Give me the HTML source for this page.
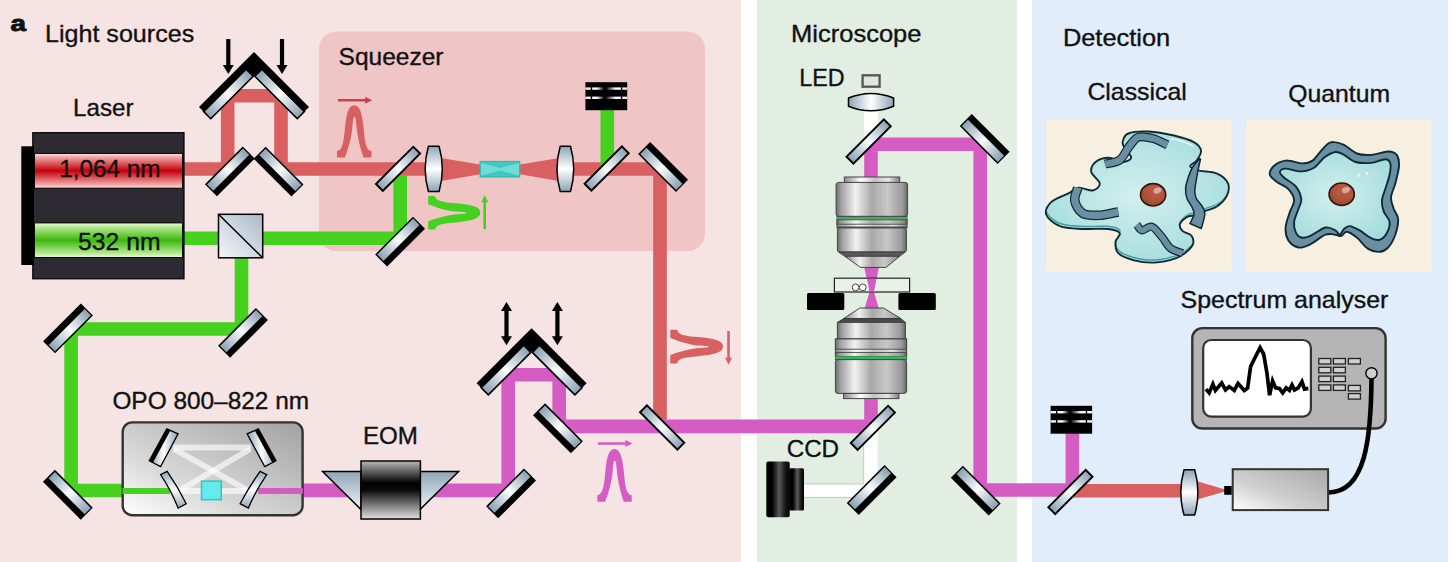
<!DOCTYPE html>
<html><head><meta charset="utf-8"><title>Experimental setup</title>
<style>
html,body{margin:0;padding:0;background:#fff;}
body{width:1453px;height:562px;overflow:hidden;font-family:"Liberation Sans",sans-serif;}
svg{display:block;}
</style></head><body>
<svg width="1453" height="562" viewBox="0 0 1453 562" font-family="'Liberation Sans', sans-serif" fill="#111">

<defs>
<linearGradient id="glass" x1="0" y1="0" x2="1" y2="0">
 <stop offset="0" stop-color="#8aa1b2"/><stop offset="0.5" stop-color="#fbfcfd"/><stop offset="1" stop-color="#8aa1b2"/>
</linearGradient>
<linearGradient id="lensV" x1="0" y1="0" x2="0" y2="1">
 <stop offset="0" stop-color="#8ea5b6"/><stop offset="0.5" stop-color="#ffffff"/><stop offset="1" stop-color="#8ea5b6"/>
</linearGradient>
<linearGradient id="lensH" x1="0" y1="0" x2="1" y2="0">
 <stop offset="0" stop-color="#8ea5b6"/><stop offset="0.5" stop-color="#ffffff"/><stop offset="1" stop-color="#8ea5b6"/>
</linearGradient>
<linearGradient id="redtube" x1="0" y1="0" x2="0" y2="1">
 <stop offset="0" stop-color="#fbe3e3"/><stop offset="0.12" stop-color="#f0a0a0"/><stop offset="0.5" stop-color="#c4000c"/><stop offset="0.88" stop-color="#f0a0a0"/><stop offset="1" stop-color="#fbe3e3"/>
</linearGradient>
<linearGradient id="greentube" x1="0" y1="0" x2="0" y2="1">
 <stop offset="0" stop-color="#eefbe0"/><stop offset="0.12" stop-color="#b4ea90"/><stop offset="0.5" stop-color="#3cb80c"/><stop offset="0.88" stop-color="#b4ea90"/><stop offset="1" stop-color="#eefbe0"/>
</linearGradient>
<linearGradient id="cube" x1="0" y1="1" x2="1" y2="0">
 <stop offset="0" stop-color="#f4f6f8"/><stop offset="1" stop-color="#a9bac8"/>
</linearGradient>
<linearGradient id="opobox" x1="0" y1="1" x2="1" y2="0">
 <stop offset="0" stop-color="#ffffff"/><stop offset="0.35" stop-color="#d8d8d8"/><stop offset="1" stop-color="#a2a2a2"/>
</linearGradient>
<linearGradient id="detbox" x1="0" y1="1" x2="1" y2="0">
 <stop offset="0" stop-color="#ffffff"/><stop offset="0.4" stop-color="#d0d0d0"/><stop offset="1" stop-color="#a8a8a8"/>
</linearGradient>
<linearGradient id="eom" x1="0" y1="0" x2="0" y2="1">
 <stop offset="0" stop-color="#b8b8b8"/><stop offset="0.38" stop-color="#000000"/><stop offset="0.5" stop-color="#0a0a0a"/><stop offset="1" stop-color="#e2e2e2"/>
</linearGradient>
<linearGradient id="prism" x1="0" y1="0" x2="0" y2="1">
 <stop offset="0" stop-color="#8fa6b8"/><stop offset="1" stop-color="#eef2f5"/>
</linearGradient>
<linearGradient id="metal" x1="0" y1="0" x2="1" y2="0">
 <stop offset="0" stop-color="#6e6e6e"/><stop offset="0.07" stop-color="#a0a0a0"/><stop offset="0.27" stop-color="#f2f2f2"/><stop offset="0.5" stop-color="#a8a8a8"/><stop offset="0.72" stop-color="#c8c8c8"/><stop offset="0.93" stop-color="#9a9a9a"/><stop offset="1" stop-color="#666666"/>
</linearGradient>
<linearGradient id="metal2" x1="0" y1="0" x2="1" y2="0">
 <stop offset="0" stop-color="#8a8a8a"/><stop offset="0.3" stop-color="#ffffff"/><stop offset="0.55" stop-color="#c4c4c4"/><stop offset="0.8" stop-color="#e6e6e6"/><stop offset="1" stop-color="#808080"/>
</linearGradient>
<linearGradient id="dumpstripe" x1="0" y1="0" x2="1" y2="0">
 <stop offset="0" stop-color="#ccc"/><stop offset="0.06" stop-color="#fff"/><stop offset="0.18" stop-color="#f4f4f4"/><stop offset="0.42" stop-color="#000"/><stop offset="0.47" stop-color="#000"/><stop offset="0.8" stop-color="#f4f4f4"/><stop offset="0.95" stop-color="#fff"/><stop offset="1" stop-color="#ccc"/>
</linearGradient>
<linearGradient id="ccd" x1="0" y1="0" x2="1" y2="0">
 <stop offset="0" stop-color="#000"/><stop offset="0.25" stop-color="#000"/><stop offset="0.55" stop-color="#5a5a5a"/><stop offset="0.8" stop-color="#1a1a1a"/><stop offset="1" stop-color="#000"/>
</linearGradient>
<radialGradient id="cyto" cx="0.5" cy="0.5" r="0.6">
 <stop offset="0" stop-color="#d4efee"/><stop offset="1" stop-color="#a3dcdc"/>
</radialGradient>
<radialGradient id="nuc" cx="0.6" cy="0.35" r="0.7">
 <stop offset="0" stop-color="#bb5e47"/><stop offset="0.55" stop-color="#b0543e"/><stop offset="1" stop-color="#98432f"/>
</radialGradient>
</defs>

<rect x="0.0" y="0.0" width="1453.0" height="562.0" fill="#ffffff" />
<rect x="0.0" y="0.0" width="741.0" height="562.0" fill="#f5e4e3" />
<rect x="757.0" y="0.0" width="260.0" height="562.0" fill="#e3eee2" />
<rect x="1032.0" y="0.0" width="416.0" height="562.0" fill="#e1edfa" />
<rect x="319" y="31.5" width="386" height="219.5" rx="17" ry="17" fill="#f0c5c5"/>
<polyline points="184.0,169.0 227.7,169.0 227.7,95.7 281.0,95.7 281.0,169.0 430.0,169.0" fill="none" stroke="#d96060" stroke-width="13.6" stroke-linejoin="bevel" />
<polyline points="570.0,169.0 660.0,169.0 660.0,426.0" fill="none" stroke="#d96060" stroke-width="13.6" stroke-linejoin="bevel" />
<polygon points="438,157.4 480,164.4 520,164.4 562,157.4 562,181.6 520,174.2 480,174.2 438,181.6" fill="#d96060"/>
<polyline points="1072.0,490.7 1190.0,490.7" fill="none" stroke="#d96060" stroke-width="13.6" stroke-linejoin="bevel" />
<polygon points="1192,479.8 1225,489.5 1225,491.5 1192,501" fill="#d96060"/>
<polyline points="184.0,238.2 400.2,238.2 400.2,175.7" fill="none" stroke="#46d020" stroke-width="13.6" stroke-linejoin="bevel" />
<polyline points="241.5,250.0 241.5,329.0 71.1,329.0 71.1,490.5 123.0,490.5" fill="none" stroke="#46d020" stroke-width="13.6" stroke-linejoin="bevel" />
<polyline points="607.3,108.0 607.3,169.0" fill="none" stroke="#46d020" stroke-width="13.6" stroke-linejoin="bevel" />
<polyline points="122.0,491.0 166.0,491.0" fill="none" stroke="#46d020" stroke-width="6.2" stroke-linejoin="bevel" />
<polyline points="258.0,491.0 304.0,491.0" fill="none" stroke="#d45cc2" stroke-width="6.2" stroke-linejoin="bevel" />
<polyline points="303.0,490.4 508.2,490.4 508.2,374.7 559.2,374.7 559.2,426.4 871.0,426.4 871.0,396.0" fill="none" stroke="#d45cc2" stroke-width="13.6" stroke-linejoin="bevel" />
<polyline points="871.0,180.0 871.0,144.2 980.2,144.2 980.2,490.0 1072.4,490.0 1072.4,432.0" fill="none" stroke="#d45cc2" stroke-width="13.6" stroke-linejoin="bevel" />
<polygon points="864,266 879.2,266 874,292 879,309 864.4,309 869.5,292" fill="#d45cc2"/>
<path d="M864.1,100 V140 H878 V100 Z" fill="#fff"/>
<path d="M863.7,430 V484 H804 V497.4 H877.5 V430 Z" fill="#fff"/>
<path d="M863.7,440 V484 H804 M804,497.4 H860" fill="none" stroke="#c4c9c4" stroke-width="1"/>
<rect x="32.8" y="132.7" width="151.2" height="146.1" fill="#2e2a31" stroke="#000" stroke-width="1.2"/>
<rect x="21.3" y="146.3" width="12.7" height="118.7" fill="#000" />
<rect x="34.4" y="153.4" width="148.2" height="34.8" fill="url(#redtube)" stroke="#000" stroke-width="1"/>
<rect x="34.4" y="222.9" width="148.2" height="34.6" fill="url(#greentube)" stroke="#000" stroke-width="1"/>
<polygon points="254.0,52.0 199.0,107.0 210.7,118.7 254.0,75.4 297.3,118.7 309.0,107.0" fill="#000"/>
<linearGradient id="rg254l" gradientUnits="userSpaceOnUse" x1="210.7" y1="118.7" x2="253.2" y2="76.2"><stop offset="0" stop-color="#8aa1b2"/><stop offset="0.5" stop-color="#fbfcfd"/><stop offset="1" stop-color="#8aa1b2"/></linearGradient>
<polygon points="210.7,118.7 253.2,76.2 246.1,69.1 203.6,111.6" fill="url(#rg254l)" stroke="#000" stroke-width="1.6"/>
<linearGradient id="rg254r" gradientUnits="userSpaceOnUse" x1="297.3" y1="118.7" x2="254.8" y2="76.2"><stop offset="0" stop-color="#8aa1b2"/><stop offset="0.5" stop-color="#fbfcfd"/><stop offset="1" stop-color="#8aa1b2"/></linearGradient>
<polygon points="297.3,118.7 254.8,76.2 261.9,69.1 304.4,111.6" fill="url(#rg254r)" stroke="#000" stroke-width="1.6"/>
<polygon points="531.6,328.2 476.6,383.2 488.3,394.9 531.6,351.6 574.9,394.9 586.6,383.2" fill="#000"/>
<linearGradient id="rg531l" gradientUnits="userSpaceOnUse" x1="488.3" y1="394.9" x2="530.8" y2="352.4"><stop offset="0" stop-color="#8aa1b2"/><stop offset="0.5" stop-color="#fbfcfd"/><stop offset="1" stop-color="#8aa1b2"/></linearGradient>
<polygon points="488.3,394.9 530.8,352.4 523.7,345.3 481.2,387.8" fill="url(#rg531l)" stroke="#000" stroke-width="1.6"/>
<linearGradient id="rg531r" gradientUnits="userSpaceOnUse" x1="574.9" y1="394.9" x2="532.4" y2="352.4"><stop offset="0" stop-color="#8aa1b2"/><stop offset="0.5" stop-color="#fbfcfd"/><stop offset="1" stop-color="#8aa1b2"/></linearGradient>
<polygon points="574.9,394.9 532.4,352.4 539.5,345.3 582.0,387.8" fill="url(#rg531r)" stroke="#000" stroke-width="1.6"/>
<path d="M226.20000000000002,39 h4.2 V65 h3.4 L228.3,74 l-5.5,-9 h3.4 Z" fill="#000"/>
<path d="M279.9,39 h4.2 V65 h3.4 L282,74 l-5.5,-9 h3.4 Z" fill="#000"/>
<path d="M506.5,302 l5.5,9 h-3.4 V336.2 h3.4 L506.5,345.2 l-5.5,-9 h3.4 V311 h-3.4 Z" fill="#000"/>
<path d="M557.4,302 l5.5,9 h-3.4 V336.2 h3.4 L557.4,345.2 l-5.5,-9 h3.4 V311 h-3.4 Z" fill="#000"/>
<g transform="translate(229.9,171.4) rotate(-45)">
<rect x="-26.8" y="-8.5" width="53.5" height="17.0" fill="#000"/>
<rect x="-25.4" y="-7.0" width="50.9" height="8.9" fill="url(#glass)"/>
</g>
<g transform="translate(278.6,171.6) rotate(45)">
<rect x="-26.8" y="-8.5" width="53.5" height="17.0" fill="#000"/>
<rect x="-25.4" y="-7.0" width="50.9" height="8.9" fill="url(#glass)"/>
</g>
<g transform="translate(511.1,493.4) rotate(-45)">
<rect x="-26.8" y="-8.5" width="53.5" height="17.0" fill="#000"/>
<rect x="-25.4" y="-7.0" width="50.9" height="8.9" fill="url(#glass)"/>
</g>
<g transform="translate(558.0,428.3) rotate(45)">
<rect x="-26.8" y="-8.5" width="53.5" height="17.0" fill="#000"/>
<rect x="-25.4" y="-7.0" width="50.9" height="8.9" fill="url(#glass)"/>
</g>
<g transform="translate(243.0,332.9) rotate(-45)">
<rect x="-26.8" y="-8.5" width="53.5" height="17.0" fill="#000"/>
<rect x="-25.4" y="-7.0" width="50.9" height="8.9" fill="url(#glass)"/>
</g>
<g transform="translate(68.0,328.4) rotate(-45)">
<rect x="-26.8" y="-8.5" width="53.5" height="17.0" fill="#000"/>
<rect x="-25.4" y="-1.9" width="50.9" height="8.9" fill="url(#glass)"/>
</g>
<g transform="translate(67.9,494.8) rotate(45)">
<rect x="-26.8" y="-8.5" width="53.5" height="17.0" fill="#000"/>
<rect x="-25.4" y="-7.0" width="50.9" height="8.9" fill="url(#glass)"/>
</g>
<g transform="translate(400.1,241.6) rotate(-45)">
<rect x="-26.8" y="-8.5" width="53.5" height="17.0" fill="#000"/>
<rect x="-25.4" y="-7.0" width="50.9" height="8.9" fill="url(#glass)"/>
</g>
<g transform="translate(663.1,167.0) rotate(45)">
<rect x="-26.8" y="-8.5" width="53.5" height="17.0" fill="#000"/>
<rect x="-25.4" y="-1.9" width="50.9" height="8.9" fill="url(#glass)"/>
</g>
<g transform="translate(984.7,139.0) rotate(45)">
<rect x="-26.8" y="-8.5" width="53.5" height="17.0" fill="#000"/>
<rect x="-25.4" y="-1.9" width="50.9" height="8.9" fill="url(#glass)"/>
</g>
<g transform="translate(871.7,490.0) rotate(-45)">
<rect x="-26.8" y="-8.5" width="53.5" height="17.0" fill="#000"/>
<rect x="-25.4" y="-7.0" width="50.9" height="8.9" fill="url(#glass)"/>
</g>
<g transform="translate(975.8,490.7) rotate(45)">
<rect x="-26.8" y="-8.5" width="53.5" height="17.0" fill="#000"/>
<rect x="-25.4" y="-7.0" width="50.9" height="8.9" fill="url(#glass)"/>
</g>
<g transform="translate(398.0,168.8) rotate(-45)">
<rect x="-26.4" y="-4.8" width="52.8" height="9.7" fill="url(#glass)" stroke="#000" stroke-width="1.9"/>
</g>
<g transform="translate(606.6,168.5) rotate(-45)">
<rect x="-26.4" y="-4.8" width="52.8" height="9.7" fill="url(#glass)" stroke="#000" stroke-width="1.9"/>
</g>
<g transform="translate(868.6,141.5) rotate(-45)">
<rect x="-26.4" y="-4.8" width="52.8" height="9.7" fill="url(#glass)" stroke="#000" stroke-width="1.9"/>
</g>
<g transform="translate(872.8,427.8) rotate(-45)">
<rect x="-26.4" y="-4.8" width="52.8" height="9.7" fill="url(#glass)" stroke="#000" stroke-width="1.9"/>
</g>
<g transform="translate(1070.4,491.9) rotate(-45)">
<rect x="-26.4" y="-4.8" width="52.8" height="9.7" fill="url(#glass)" stroke="#000" stroke-width="1.9"/>
</g>
<g transform="translate(662.2,427.4) rotate(45)">
<rect x="-26.4" y="-4.8" width="52.8" height="9.7" fill="url(#glass)" stroke="#000" stroke-width="1.9"/>
</g>
<rect x="218.5" y="214.3" width="44.2" height="43.5" fill="url(#cube)" stroke="#000" stroke-width="1.5"/>
<line x1="218.5" y1="214.3" x2="262.7" y2="257.8" stroke="#000" stroke-width="1.5"/>
<path d="M428.4,146.3 L439.1,146.3 Q445.5,168.9 439.1,191.5 L428.4,191.5 Q422.0,168.9 428.4,146.3 Z" fill="url(#lensV)" stroke="#000" stroke-width="1.5" stroke-linejoin="round"/>
<path d="M560.2,146.3 L570.5,146.3 Q576.9,168.9 570.5,191.5 L560.2,191.5 Q553.8,168.9 560.2,146.3 Z" fill="url(#lensV)" stroke="#000" stroke-width="1.5" stroke-linejoin="round"/>
<path d="M1184.0,469.7 L1194.7,469.7 Q1201.1,492.3 1194.7,514.9 L1184.0,514.9 Q1177.6,492.3 1184.0,469.7 Z" fill="url(#lensV)" stroke="#000" stroke-width="1.5" stroke-linejoin="round"/>
<path d="M848.5,98.0 L848.5,106.2 Q871.0,115.4 893.6,106.2 L893.6,98.0 Q871.0,88.8 848.5,98.0 Z" fill="url(#lensH)" stroke="#000" stroke-width="1.5" stroke-linejoin="round"/>
<rect x="480.0" y="161.4" width="39.8" height="15.6" fill="#3fc9c1" stroke="#2fb5ad" stroke-width="1"/>
<path d="M481,163 L500,168 L519,163 V175.5 L500,170.5 L481,175.5 Z" fill="#7fe0da" opacity="0.8"/>
<rect x="585.4" y="82.2" width="41.8" height="28.0" fill="#000" />
<rect x="585.4" y="87.4" width="5.4" height="2.4" fill="#f8e4e4"/>
<rect x="622.2" y="87.4" width="5.0" height="2.4" fill="#f8e4e4"/>
<rect x="592.0" y="87.4" width="29.0" height="2.4" fill="url(#dumpstripe)"/>
<rect x="585.4" y="96.6" width="5.4" height="2.4" fill="#f8e4e4"/>
<rect x="622.2" y="96.6" width="5.0" height="2.4" fill="#f8e4e4"/>
<rect x="592.0" y="96.6" width="29.0" height="2.4" fill="url(#dumpstripe)"/>
<rect x="1050.6" y="405.8" width="41.5" height="27.9" fill="#000" />
<rect x="1050.6" y="411.0" width="5.4" height="2.4" fill="#f2f7fd"/>
<rect x="1087.1" y="411.0" width="5.0" height="2.4" fill="#f2f7fd"/>
<rect x="1057.2" y="411.0" width="28.7" height="2.4" fill="url(#dumpstripe)"/>
<rect x="1050.6" y="420.2" width="5.4" height="2.4" fill="#f2f7fd"/>
<rect x="1087.1" y="420.2" width="5.0" height="2.4" fill="#f2f7fd"/>
<rect x="1057.2" y="420.2" width="28.7" height="2.4" fill="url(#dumpstripe)"/>
<path d="M-17.1,51.8 L-17.1,45.4 C-12,44.8 -10.6,38 -9.3,24.3 C-8,9 -6,0 0,0 C6,0 8,9 9.5,24.3 C10.7,38 12,44.8 17.1,45.4 L17.1,51.8 L9.3,51.8 C6.8,45 4,35 2.7,24.3 C2,17 1.5,11.4 0.3,11.4 C-1,11.4 -1.5,17 -2,24.3 C-3.5,35 -6.5,45 -9.3,51.8 Z" fill="#d96060" transform="translate(354.2,105.3) scale(1.009,1.008)"/>
<path d="M338,98.9 H365.2 V96.7 L372.2,100.2 L365.2,103.7 V101.5 H338 Z" fill="#d0404c"/>
<path d="M-17.1,51.8 L-17.1,45.4 C-12,44.8 -10.6,38 -9.3,24.3 C-8,9 -6,0 0,0 C6,0 8,9 9.5,24.3 C10.7,38 12,44.8 17.1,45.4 L17.1,51.8 L9.3,51.8 C6.8,45 4,35 2.7,24.3 C2,17 1.5,11.4 0.3,11.4 C-1,11.4 -1.5,17 -2,24.3 C-3.5,35 -6.5,45 -9.3,51.8 Z" fill="#d45cc2" transform="translate(614.5,449.0) scale(1.006,1.017)"/>
<path d="M598,442.2 H625.4 V440.0 L632.4,443.5 L625.4,447.0 V444.8 H598 Z" fill="#d45cc2"/>
<path d="M-17.1,51.8 L-17.1,45.0 C-12,44.4 -10.8,38 -9.6,24.3 C-8.3,9 -6.2,0 0,0 C6.2,0 8.3,9 9.8,24.3 C10.9,38 12,44.4 17.1,45.0 L17.1,51.8 L8.6,51.8 C6.0,45 3.0,36 1.7,26.5 C1.2,20 1.0,14.0 0.2,14.0 C-0.7,14.0 -0.9,20 -1.2,26.5 C-2.6,36 -5.8,45 -8.6,51.8 Z" fill="#46d020" transform="translate(480.4,212.8) rotate(90) scale(0.982,1.008)"/>
<path d="M483.4,229 V202.3 H481.2 L484.7,195.3 L488.2,202.3 H486.0 V229 Z" fill="#46d020"/>
<path d="M-17.1,51.8 L-17.1,45.0 C-12,44.4 -10.8,38 -9.6,24.3 C-8.3,9 -6.2,0 0,0 C6.2,0 8.3,9 9.8,24.3 C10.9,38 12,44.4 17.1,45.0 L17.1,51.8 L8.6,51.8 C6.0,45 3.0,36 1.7,26.5 C1.2,20 1.0,14.0 0.2,14.0 C-0.7,14.0 -0.9,20 -1.2,26.5 C-2.6,36 -5.8,45 -8.6,51.8 Z" fill="#d96060" transform="translate(723.0,346.6) rotate(90) scale(0.988,1.017)"/>
<path d="M727.2,331 V357.8 H725.0 L728.5,364.8 L732.0,357.8 H729.8 V331 Z" fill="#d96060"/>
<rect x="122.7" y="422.4" width="179.9" height="92.8" rx="9.5" ry="9.5" fill="url(#opobox)" stroke="#333" stroke-width="2.4"/>
<polyline points="122.5,491.0 170.0,491.0" fill="none" stroke="#46d020" stroke-width="6.2" stroke-linejoin="bevel" />
<polyline points="258.0,491.0 302.8,491.0" fill="none" stroke="#d45cc2" stroke-width="6.2" stroke-linejoin="bevel" />
<polyline points="173.0,447.5 251.0,447.5" fill="none" stroke="rgba(255,255,255,0.62)" stroke-width="6" stroke-linejoin="bevel" />
<polyline points="180.0,491.0 248.0,491.0" fill="none" stroke="rgba(255,255,255,0.62)" stroke-width="6" stroke-linejoin="bevel" />
<polyline points="174.0,449.0 249.0,491.0" fill="none" stroke="rgba(255,255,255,0.62)" stroke-width="6" stroke-linejoin="bevel" />
<polyline points="250.0,449.0 179.0,491.0" fill="none" stroke="rgba(255,255,255,0.62)" stroke-width="6" stroke-linejoin="bevel" />
<rect x="201.5" y="481.1" width="19.8" height="18.6" fill="#62ebea" stroke="#35c4c4" stroke-width="1.5"/>
<polygon points="166.8,428.9 178.1,433.9 160.6,466.6 149.3,460.8" fill="url(#glass)" stroke="#000" stroke-width="1.3"/>
<polygon points="166.8,428.9 170.4,430.5 152.9,462.7 149.3,460.8" fill="#000"/>
<polygon points="258.4,428.9 247.1,433.9 264.7,466.6 276.0,460.8" fill="url(#glass)" stroke="#000" stroke-width="1.3"/>
<polygon points="258.4,428.9 254.8,430.5 272.4,462.7 276.0,460.8" fill="#000"/>
<path d="M160.6,474.6 L167.2,471.3 Q178,487 186.2,503.7 L178.1,508 Q171,490 160.6,474.6 Z" fill="url(#lensV)" stroke="#000" stroke-width="1.3"/>
<path d="M266.7,474.6 L260.1,471.3 Q249,487 240.1,503.7 L248.4,508 Q256,490 266.7,474.6 Z" fill="url(#lensV)" stroke="#000" stroke-width="1.3"/>
<polygon points="322.6,471.6 361,471.6 361,509.6" fill="url(#prism)" stroke="#000" stroke-width="1.5"/>
<polygon points="458.6,471.6 420,471.6 420,509.6" fill="url(#prism)" stroke="#000" stroke-width="1.5"/>
<rect x="361.0" y="461.0" width="59.4" height="58.0" fill="url(#eom)" stroke="#000" stroke-width="1.5"/>
<rect x="862.6" y="75.3" width="17.0" height="11.4" fill="#dfe8df" stroke="#555" stroke-width="2.3"/>
<rect x="844.3" y="177.0" width="55.4" height="6.0" fill="url(#metal2)" stroke="#444" stroke-width="1"/>
<rect x="836.1" y="182.4" width="71.5" height="34.0" fill="url(#metal)" stroke="#444" stroke-width="1" rx="2.5"/>
<rect x="837.0" y="216.4" width="70.0" height="11.6" fill="url(#metal2)" stroke="#444" stroke-width="1"/>
<rect x="837.0" y="217.0" width="70.0" height="2.6" fill="#3bb35a" />
<rect x="837.0" y="219.8" width="70.0" height="4.4" fill="url(#metal)" stroke="#444" stroke-width="0.9"/>
<line x1="837" y1="227.2" x2="907" y2="227.2" stroke="#444" stroke-width="1.2"/>
<rect x="837.4" y="228.0" width="69.0" height="24.0" fill="url(#metal)" stroke="#444" stroke-width="1" rx="2"/>
<polygon points="838.6,252 905.2,252 899.7,256.3 844.8,256.3" fill="#5a5a5a" stroke="#333" stroke-width="0.8"/>
<polygon points="844.8,256.3 899.7,256.3 886,267.4 860.5,267.4" fill="url(#metal)" stroke="#444" stroke-width="1"/>
<rect x="834.4" y="278.2" width="75.2" height="13.8" fill="#e9f1e9" stroke="#222" stroke-width="1.2"/>
<polygon points="867.0,278.8 876.6,278.8 874,291.6 869.5,291.6" fill="#d45cc2"/>
<circle cx="855.6" cy="287.4" r="3.4" fill="#fff" stroke="#444" stroke-width="1"/>
<circle cx="862.8" cy="287.4" r="3.4" fill="#fff" stroke="#444" stroke-width="1"/>
<rect x="807" y="292.9" width="37.3" height="17" rx="1.5" fill="#000"/>
<rect x="898.4" y="292.9" width="37.4" height="17" rx="1.5" fill="#000"/>
<polygon points="859.8,308 883.5,308 900.9,318.6 843.6,318.6" fill="url(#metal)" stroke="#444" stroke-width="1"/>
<polygon points="843.6,318.6 900.9,318.6 905.4,322.4 837.4,322.4" fill="#4a4a4a" stroke="#333" stroke-width="0.8"/>
<rect x="837.4" y="322.4" width="68.0" height="16.6" fill="url(#metal)" stroke="#444" stroke-width="1"/>
<rect x="835.4" y="339.0" width="71.2" height="20.6" fill="url(#metal2)" stroke="#444" stroke-width="1"/>
<rect x="835.4" y="339.0" width="71.2" height="10.2" fill="url(#metal)" stroke="#444" stroke-width="0.9"/>
<rect x="835.4" y="352.4" width="71.2" height="4.0" fill="url(#metal)" stroke="#444" stroke-width="0.9"/>
<rect x="835.4" y="356.4" width="71.2" height="2.8" fill="#3bb35a" />
<rect x="835.4" y="359.6" width="71.2" height="33.8" fill="url(#metal)" stroke="#444" stroke-width="1" rx="2.5"/>
<rect x="843.6" y="393.4" width="55.3" height="5.2" fill="url(#metal2)" stroke="#444" stroke-width="1"/>
<rect x="766.3" y="461.5" width="23.4" height="55.7" rx="2" fill="url(#ccd)"/>
<rect x="789.2" y="468.3" width="14.8" height="42.1" rx="1.5" fill="url(#ccd)"/>
<rect x="1045.7" y="120.0" width="185.9" height="151.2" fill="#f7efdf" />
<rect x="1245.7" y="120.0" width="185.9" height="151.2" fill="#f7efdf" />
<clipPath id="clc"><path d="M1122.6,142.1 C1123.1,139.5 1124.0,135.3 1128.3,133.5 C1132.6,131.8 1140.7,131.2 1148.3,131.5 C1155.9,131.9 1166.3,133.8 1173.9,135.5 C1181.5,137.3 1189.3,139.5 1193.8,142.1 C1198.4,144.6 1200.5,147.5 1201.0,150.6 C1201.4,153.7 1198.5,158.0 1196.7,160.6 C1194.9,163.2 1189.7,164.6 1190.1,166.3 C1190.6,167.9 1195.1,169.4 1199.5,170.6 C1204.0,171.7 1211.9,171.3 1216.6,173.4 C1221.4,175.5 1226.4,179.6 1228.0,183.4 C1229.7,187.2 1228.5,192.4 1226.6,196.2 C1224.8,200.0 1220.7,203.9 1216.9,206.5 C1213.2,209.0 1207.6,209.8 1204.1,211.3 C1200.6,212.8 1198.9,214.4 1196.1,215.3 C1193.4,216.2 1190.3,215.2 1187.6,216.7 C1184.9,218.2 1180.7,221.7 1179.9,224.1 C1179.1,226.5 1180.8,229.3 1182.7,231.2 C1184.6,233.1 1189.6,233.4 1191.3,235.5 C1193.0,237.6 1193.9,241.2 1193.0,244.1 C1192.0,246.9 1188.5,250.2 1185.6,252.6 C1182.7,255.0 1180.8,256.6 1175.6,258.3 C1170.4,260.0 1161.2,262.2 1154.2,262.6 C1147.3,262.9 1140.0,261.9 1134.0,260.3 C1128.0,258.7 1121.4,256.3 1118.3,253.2 C1115.3,250.1 1115.3,245.1 1115.5,241.8 C1115.7,238.5 1121.0,235.4 1119.8,233.2 C1118.6,231.1 1114.5,229.7 1108.4,229.0 C1102.2,228.2 1090.8,229.4 1082.7,229.0 C1074.7,228.5 1066.0,228.5 1059.9,226.1 C1053.9,223.7 1047.7,218.8 1046.3,214.7 C1044.8,210.7 1047.7,205.5 1051.4,201.9 C1055.1,198.3 1064.0,195.7 1068.5,193.3 C1073.0,191.0 1074.4,188.1 1078.5,187.6 C1082.5,187.2 1089.1,191.2 1092.7,190.5 C1096.3,189.8 1100.1,186.5 1099.8,183.4 C1099.6,180.3 1092.0,175.5 1091.3,172.0 C1090.6,168.4 1092.7,164.4 1095.6,162.0 C1098.4,159.6 1103.9,157.7 1108.4,157.7 C1112.9,157.7 1118.8,162.0 1122.6,162.0 C1126.4,162.0 1130.7,159.9 1131.2,157.7 C1131.6,155.6 1126.9,151.8 1125.5,149.2 C1124.0,146.6 1122.1,144.7 1122.6,142.1 Z"/></clipPath>
<path d="M1122.6,142.1 C1123.1,139.5 1124.0,135.3 1128.3,133.5 C1132.6,131.8 1140.7,131.2 1148.3,131.5 C1155.9,131.9 1166.3,133.8 1173.9,135.5 C1181.5,137.3 1189.3,139.5 1193.8,142.1 C1198.4,144.6 1200.5,147.5 1201.0,150.6 C1201.4,153.7 1198.5,158.0 1196.7,160.6 C1194.9,163.2 1189.7,164.6 1190.1,166.3 C1190.6,167.9 1195.1,169.4 1199.5,170.6 C1204.0,171.7 1211.9,171.3 1216.6,173.4 C1221.4,175.5 1226.4,179.6 1228.0,183.4 C1229.7,187.2 1228.5,192.4 1226.6,196.2 C1224.8,200.0 1220.7,203.9 1216.9,206.5 C1213.2,209.0 1207.6,209.8 1204.1,211.3 C1200.6,212.8 1198.9,214.4 1196.1,215.3 C1193.4,216.2 1190.3,215.2 1187.6,216.7 C1184.9,218.2 1180.7,221.7 1179.9,224.1 C1179.1,226.5 1180.8,229.3 1182.7,231.2 C1184.6,233.1 1189.6,233.4 1191.3,235.5 C1193.0,237.6 1193.9,241.2 1193.0,244.1 C1192.0,246.9 1188.5,250.2 1185.6,252.6 C1182.7,255.0 1180.8,256.6 1175.6,258.3 C1170.4,260.0 1161.2,262.2 1154.2,262.6 C1147.3,262.9 1140.0,261.9 1134.0,260.3 C1128.0,258.7 1121.4,256.3 1118.3,253.2 C1115.3,250.1 1115.3,245.1 1115.5,241.8 C1115.7,238.5 1121.0,235.4 1119.8,233.2 C1118.6,231.1 1114.5,229.7 1108.4,229.0 C1102.2,228.2 1090.8,229.4 1082.7,229.0 C1074.7,228.5 1066.0,228.5 1059.9,226.1 C1053.9,223.7 1047.7,218.8 1046.3,214.7 C1044.8,210.7 1047.7,205.5 1051.4,201.9 C1055.1,198.3 1064.0,195.7 1068.5,193.3 C1073.0,191.0 1074.4,188.1 1078.5,187.6 C1082.5,187.2 1089.1,191.2 1092.7,190.5 C1096.3,189.8 1100.1,186.5 1099.8,183.4 C1099.6,180.3 1092.0,175.5 1091.3,172.0 C1090.6,168.4 1092.7,164.4 1095.6,162.0 C1098.4,159.6 1103.9,157.7 1108.4,157.7 C1112.9,157.7 1118.8,162.0 1122.6,162.0 C1126.4,162.0 1130.7,159.9 1131.2,157.7 C1131.6,155.6 1126.9,151.8 1125.5,149.2 C1124.0,146.6 1122.1,144.7 1122.6,142.1 Z" fill="url(#cyto)"/>
<clipPath id="rimreg"><path d="M1040,206 H1196 V184 H1240 V275 H1040 Z"/></clipPath>
<g clip-path="url(#clc)"><g clip-path="url(#rimreg)"><path d="M1122.6,142.1 C1123.1,139.5 1124.0,135.3 1128.3,133.5 C1132.6,131.8 1140.7,131.2 1148.3,131.5 C1155.9,131.9 1166.3,133.8 1173.9,135.5 C1181.5,137.3 1189.3,139.5 1193.8,142.1 C1198.4,144.6 1200.5,147.5 1201.0,150.6 C1201.4,153.7 1198.5,158.0 1196.7,160.6 C1194.9,163.2 1189.7,164.6 1190.1,166.3 C1190.6,167.9 1195.1,169.4 1199.5,170.6 C1204.0,171.7 1211.9,171.3 1216.6,173.4 C1221.4,175.5 1226.4,179.6 1228.0,183.4 C1229.7,187.2 1228.5,192.4 1226.6,196.2 C1224.8,200.0 1220.7,203.9 1216.9,206.5 C1213.2,209.0 1207.6,209.8 1204.1,211.3 C1200.6,212.8 1198.9,214.4 1196.1,215.3 C1193.4,216.2 1190.3,215.2 1187.6,216.7 C1184.9,218.2 1180.7,221.7 1179.9,224.1 C1179.1,226.5 1180.8,229.3 1182.7,231.2 C1184.6,233.1 1189.6,233.4 1191.3,235.5 C1193.0,237.6 1193.9,241.2 1193.0,244.1 C1192.0,246.9 1188.5,250.2 1185.6,252.6 C1182.7,255.0 1180.8,256.6 1175.6,258.3 C1170.4,260.0 1161.2,262.2 1154.2,262.6 C1147.3,262.9 1140.0,261.9 1134.0,260.3 C1128.0,258.7 1121.4,256.3 1118.3,253.2 C1115.3,250.1 1115.3,245.1 1115.5,241.8 C1115.7,238.5 1121.0,235.4 1119.8,233.2 C1118.6,231.1 1114.5,229.7 1108.4,229.0 C1102.2,228.2 1090.8,229.4 1082.7,229.0 C1074.7,228.5 1066.0,228.5 1059.9,226.1 C1053.9,223.7 1047.7,218.8 1046.3,214.7 C1044.8,210.7 1047.7,205.5 1051.4,201.9 C1055.1,198.3 1064.0,195.7 1068.5,193.3 C1073.0,191.0 1074.4,188.1 1078.5,187.6 C1082.5,187.2 1089.1,191.2 1092.7,190.5 C1096.3,189.8 1100.1,186.5 1099.8,183.4 C1099.6,180.3 1092.0,175.5 1091.3,172.0 C1090.6,168.4 1092.7,164.4 1095.6,162.0 C1098.4,159.6 1103.9,157.7 1108.4,157.7 C1112.9,157.7 1118.8,162.0 1122.6,162.0 C1126.4,162.0 1130.7,159.9 1131.2,157.7 C1131.6,155.6 1126.9,151.8 1125.5,149.2 C1124.0,146.6 1122.1,144.7 1122.6,142.1 Z" fill="#3f9fa6" transform="translate(0.4,-1.8)"/><path d="M1122.6,142.1 C1123.1,139.5 1124.0,135.3 1128.3,133.5 C1132.6,131.8 1140.7,131.2 1148.3,131.5 C1155.9,131.9 1166.3,133.8 1173.9,135.5 C1181.5,137.3 1189.3,139.5 1193.8,142.1 C1198.4,144.6 1200.5,147.5 1201.0,150.6 C1201.4,153.7 1198.5,158.0 1196.7,160.6 C1194.9,163.2 1189.7,164.6 1190.1,166.3 C1190.6,167.9 1195.1,169.4 1199.5,170.6 C1204.0,171.7 1211.9,171.3 1216.6,173.4 C1221.4,175.5 1226.4,179.6 1228.0,183.4 C1229.7,187.2 1228.5,192.4 1226.6,196.2 C1224.8,200.0 1220.7,203.9 1216.9,206.5 C1213.2,209.0 1207.6,209.8 1204.1,211.3 C1200.6,212.8 1198.9,214.4 1196.1,215.3 C1193.4,216.2 1190.3,215.2 1187.6,216.7 C1184.9,218.2 1180.7,221.7 1179.9,224.1 C1179.1,226.5 1180.8,229.3 1182.7,231.2 C1184.6,233.1 1189.6,233.4 1191.3,235.5 C1193.0,237.6 1193.9,241.2 1193.0,244.1 C1192.0,246.9 1188.5,250.2 1185.6,252.6 C1182.7,255.0 1180.8,256.6 1175.6,258.3 C1170.4,260.0 1161.2,262.2 1154.2,262.6 C1147.3,262.9 1140.0,261.9 1134.0,260.3 C1128.0,258.7 1121.4,256.3 1118.3,253.2 C1115.3,250.1 1115.3,245.1 1115.5,241.8 C1115.7,238.5 1121.0,235.4 1119.8,233.2 C1118.6,231.1 1114.5,229.7 1108.4,229.0 C1102.2,228.2 1090.8,229.4 1082.7,229.0 C1074.7,228.5 1066.0,228.5 1059.9,226.1 C1053.9,223.7 1047.7,218.8 1046.3,214.7 C1044.8,210.7 1047.7,205.5 1051.4,201.9 C1055.1,198.3 1064.0,195.7 1068.5,193.3 C1073.0,191.0 1074.4,188.1 1078.5,187.6 C1082.5,187.2 1089.1,191.2 1092.7,190.5 C1096.3,189.8 1100.1,186.5 1099.8,183.4 C1099.6,180.3 1092.0,175.5 1091.3,172.0 C1090.6,168.4 1092.7,164.4 1095.6,162.0 C1098.4,159.6 1103.9,157.7 1108.4,157.7 C1112.9,157.7 1118.8,162.0 1122.6,162.0 C1126.4,162.0 1130.7,159.9 1131.2,157.7 C1131.6,155.6 1126.9,151.8 1125.5,149.2 C1124.0,146.6 1122.1,144.7 1122.6,142.1 Z" fill="url(#cyto)" transform="translate(0.8,-3.3)"/></g></g>
<path d="M1171,138.6 Q1184,141 1193,146" fill="none" stroke="#fff" stroke-width="1.4" opacity="0.85" stroke-linecap="round"/>
<path d="M1122.6,142.1 C1123.1,139.5 1124.0,135.3 1128.3,133.5 C1132.6,131.8 1140.7,131.2 1148.3,131.5 C1155.9,131.9 1166.3,133.8 1173.9,135.5 C1181.5,137.3 1189.3,139.5 1193.8,142.1 C1198.4,144.6 1200.5,147.5 1201.0,150.6 C1201.4,153.7 1198.5,158.0 1196.7,160.6 C1194.9,163.2 1189.7,164.6 1190.1,166.3 C1190.6,167.9 1195.1,169.4 1199.5,170.6 C1204.0,171.7 1211.9,171.3 1216.6,173.4 C1221.4,175.5 1226.4,179.6 1228.0,183.4 C1229.7,187.2 1228.5,192.4 1226.6,196.2 C1224.8,200.0 1220.7,203.9 1216.9,206.5 C1213.2,209.0 1207.6,209.8 1204.1,211.3 C1200.6,212.8 1198.9,214.4 1196.1,215.3 C1193.4,216.2 1190.3,215.2 1187.6,216.7 C1184.9,218.2 1180.7,221.7 1179.9,224.1 C1179.1,226.5 1180.8,229.3 1182.7,231.2 C1184.6,233.1 1189.6,233.4 1191.3,235.5 C1193.0,237.6 1193.9,241.2 1193.0,244.1 C1192.0,246.9 1188.5,250.2 1185.6,252.6 C1182.7,255.0 1180.8,256.6 1175.6,258.3 C1170.4,260.0 1161.2,262.2 1154.2,262.6 C1147.3,262.9 1140.0,261.9 1134.0,260.3 C1128.0,258.7 1121.4,256.3 1118.3,253.2 C1115.3,250.1 1115.3,245.1 1115.5,241.8 C1115.7,238.5 1121.0,235.4 1119.8,233.2 C1118.6,231.1 1114.5,229.7 1108.4,229.0 C1102.2,228.2 1090.8,229.4 1082.7,229.0 C1074.7,228.5 1066.0,228.5 1059.9,226.1 C1053.9,223.7 1047.7,218.8 1046.3,214.7 C1044.8,210.7 1047.7,205.5 1051.4,201.9 C1055.1,198.3 1064.0,195.7 1068.5,193.3 C1073.0,191.0 1074.4,188.1 1078.5,187.6 C1082.5,187.2 1089.1,191.2 1092.7,190.5 C1096.3,189.8 1100.1,186.5 1099.8,183.4 C1099.6,180.3 1092.0,175.5 1091.3,172.0 C1090.6,168.4 1092.7,164.4 1095.6,162.0 C1098.4,159.6 1103.9,157.7 1108.4,157.7 C1112.9,157.7 1118.8,162.0 1122.6,162.0 C1126.4,162.0 1130.7,159.9 1131.2,157.7 C1131.6,155.6 1126.9,151.8 1125.5,149.2 C1124.0,146.6 1122.1,144.7 1122.6,142.1 Z" fill="none" stroke="#0e2a36" stroke-width="1.9"/>
<path d="M1105.0,164.0 C1107.4,163.3 1115.8,162.9 1119.8,160.0 C1123.8,157.2 1125.8,150.7 1128.9,146.9 C1132.0,143.1 1134.3,138.6 1138.3,137.2 C1142.2,135.8 1147.7,137.1 1152.5,138.4 C1157.4,139.6 1164.9,143.8 1167.4,144.9 " fill="none" stroke="#0e2a36" stroke-width="9.0" stroke-linecap="butt"/>
<path d="M1105.0,164.0 C1107.4,163.3 1115.8,162.9 1119.8,160.0 C1123.8,157.2 1125.8,150.7 1128.9,146.9 C1132.0,143.1 1134.3,138.6 1138.3,137.2 C1142.2,135.8 1147.7,137.1 1152.5,138.4 C1157.4,139.6 1164.9,143.8 1167.4,144.9 " fill="none" stroke="#6b8fa2" stroke-width="6.6" stroke-linecap="butt"/>
<path d="M1199.8,158.5 C1198.6,159.9 1194.6,163.9 1192.7,167.0 C1190.8,170.1 1189.6,173.4 1188.4,177.0 C1187.2,180.6 1185.8,184.8 1185.6,188.4 C1185.4,192.0 1185.9,195.4 1187.0,198.5 C1188.1,201.6 1190.8,204.5 1192.0,207.1 C1193.2,209.7 1194.4,211.5 1194.1,214.2 C1193.8,216.9 1190.6,221.9 1189.9,223.5  L1201.3,228.5 C1201.9,226.1 1204.6,217.8 1204.8,214.2 C1205.0,210.6 1204.1,209.7 1202.7,207.1 C1201.3,204.5 1197.6,201.2 1196.3,198.5 C1195.0,195.8 1194.8,194.3 1194.8,191.2 C1194.8,188.1 1195.7,183.6 1196.3,179.8 C1196.9,176.0 1197.7,171.8 1198.4,168.4 C1199.1,165.0 1200.2,160.7 1200.5,159.2  Z" fill="#6b8fa2" stroke="#0e2a36" stroke-width="1.5" stroke-linejoin="round"/>
<path d="M1077.9,187.6 C1077.4,189.8 1074.0,196.2 1074.8,200.5 C1075.6,204.7 1078.6,210.8 1082.7,213.3 C1086.9,215.8 1093.9,215.5 1099.8,215.3 C1105.8,215.0 1115.3,212.4 1118.3,211.9 " fill="none" stroke="#0e2a36" stroke-width="9.6" stroke-linecap="butt"/>
<path d="M1077.9,187.6 C1077.4,189.8 1074.0,196.2 1074.8,200.5 C1075.6,204.7 1078.6,210.8 1082.7,213.3 C1086.9,215.8 1093.9,215.5 1099.8,215.3 C1105.8,215.0 1115.3,212.4 1118.3,211.9 " fill="none" stroke="#6b8fa2" stroke-width="7.2" stroke-linecap="butt"/>
<path d="M1136.9,224.7 C1137.7,225.6 1139.5,230.1 1142.0,230.4 C1144.5,230.7 1148.4,225.6 1151.7,226.7 C1155.0,227.8 1158.8,233.3 1161.9,236.9 C1165.1,240.5 1167.1,245.6 1170.5,248.3 C1173.9,251.0 1180.5,252.4 1182.5,253.2 " fill="none" stroke="#0e2a36" stroke-width="8.2" stroke-linecap="butt"/>
<path d="M1136.9,224.7 C1137.7,225.6 1139.5,230.1 1142.0,230.4 C1144.5,230.7 1148.4,225.6 1151.7,226.7 C1155.0,227.8 1158.8,233.3 1161.9,236.9 C1165.1,240.5 1167.1,245.6 1170.5,248.3 C1173.9,251.0 1180.5,252.4 1182.5,253.2 " fill="none" stroke="#6b8fa2" stroke-width="5.8" stroke-linecap="butt"/>
<ellipse cx="1153.1" cy="194.8" rx="12.6" ry="11.2" fill="url(#nuc)" stroke="#2a1510" stroke-width="1.6"/>
<ellipse cx="1157.5" cy="190.5" rx="4.2" ry="2.8" fill="#d7a89c" transform="rotate(-20 1157.5 190.5)"/>
<path d="M1334.0,142.1 C1336.6,142.3 1340.2,143.0 1344.0,144.9 C1347.8,146.8 1352.3,151.8 1356.8,153.5 C1361.3,155.1 1365.8,155.2 1371.1,154.9 C1376.3,154.6 1383.9,151.5 1388.1,151.5 C1392.4,151.5 1394.9,152.4 1396.7,154.9 C1398.5,157.4 1399.2,161.5 1399.0,166.3 C1398.7,171.0 1396.6,178.2 1395.3,183.4 C1393.9,188.6 1391.2,193.3 1391.0,197.6 C1390.8,201.9 1392.7,205.5 1393.8,209.0 C1395.0,212.6 1397.9,214.7 1398.1,219.0 C1398.4,223.3 1396.9,229.9 1395.3,234.7 C1393.6,239.4 1390.8,244.6 1388.1,247.5 C1385.5,250.3 1382.9,251.5 1379.6,251.8 C1376.3,252.0 1372.0,251.3 1368.2,248.9 C1364.4,246.5 1360.4,240.4 1356.8,237.5 C1353.2,234.7 1349.4,232.0 1346.8,231.8 C1344.2,231.6 1343.0,235.6 1341.1,236.1 C1339.2,236.6 1338.1,234.9 1335.4,234.7 C1332.8,234.4 1329.7,233.0 1325.5,234.7 C1321.2,236.3 1314.3,242.5 1309.8,244.6 C1305.3,246.8 1302.0,248.2 1298.4,247.5 C1294.8,246.8 1290.6,243.7 1288.4,240.4 C1286.3,237.0 1285.3,232.3 1285.6,227.5 C1285.8,222.8 1288.4,216.4 1289.9,211.9 C1291.3,207.4 1294.4,204.3 1294.1,200.5 C1293.9,196.7 1291.3,192.2 1288.4,189.1 C1285.6,186.0 1280.1,184.3 1277.0,182.0 C1274.0,179.6 1270.5,177.4 1269.9,174.8 C1269.3,172.2 1271.0,168.7 1273.6,166.3 C1276.2,163.9 1280.7,161.1 1285.6,160.6 C1290.4,160.1 1298.2,163.4 1302.7,163.4 C1307.2,163.4 1309.6,162.7 1312.6,160.6 C1315.7,158.4 1318.6,153.5 1321.2,150.6 C1323.8,147.8 1326.2,144.9 1328.3,143.5 C1330.5,142.1 1331.4,141.8 1334.0,142.1 Z" fill="#6b8fa2" stroke="#0e2a36" stroke-width="1.9"/>
<path d="M1335.4,152.0 C1338.8,151.6 1340.7,153.2 1344.0,154.9 C1347.3,156.5 1350.9,160.7 1355.4,162.0 C1359.9,163.3 1366.1,163.3 1371.1,162.9 C1376.0,162.4 1382.1,159.1 1385.3,159.2 C1388.5,159.3 1389.7,160.8 1390.4,163.4 C1391.1,166.0 1390.4,170.6 1389.6,174.8 C1388.7,179.1 1386.6,184.8 1385.3,189.1 C1384.0,193.3 1382.1,196.7 1381.9,200.5 C1381.6,204.3 1382.6,208.3 1383.9,211.9 C1385.2,215.4 1389.1,218.3 1389.6,221.8 C1390.0,225.4 1388.4,230.2 1386.7,233.2 C1385.1,236.2 1382.2,239.0 1379.6,239.8 C1377.0,240.6 1374.4,239.6 1371.1,238.1 C1367.7,236.5 1363.2,232.4 1359.7,230.4 C1356.1,228.4 1352.3,226.3 1349.7,226.1 C1347.1,225.9 1345.7,227.5 1344.0,229.0 C1342.3,230.4 1341.1,234.4 1339.7,234.7 C1338.3,234.9 1337.8,231.6 1335.4,230.4 C1333.1,229.2 1329.7,226.6 1325.5,227.5 C1321.2,228.5 1313.8,234.4 1309.8,236.1 C1305.8,237.7 1303.6,238.2 1301.3,237.5 C1298.9,236.8 1296.7,234.4 1295.6,231.8 C1294.4,229.2 1293.7,225.6 1294.1,221.8 C1294.6,218.0 1297.2,212.8 1298.4,209.0 C1299.6,205.2 1301.7,202.8 1301.3,199.0 C1300.8,195.2 1298.4,189.8 1295.6,186.2 C1292.7,182.7 1286.8,180.1 1284.2,177.7 C1281.5,175.3 1279.6,173.5 1279.9,172.0 C1280.1,170.5 1282.0,168.7 1285.6,168.6 C1289.1,168.5 1296.5,171.6 1301.3,171.4 C1306.0,171.3 1310.3,170.0 1314.1,167.7 C1317.9,165.4 1320.5,160.3 1324.0,157.7 C1327.6,155.1 1332.1,152.5 1335.4,152.0 Z" fill="url(#cyto)" stroke="#0e2a36" stroke-width="1.9"/>
<ellipse cx="1341.7" cy="194.2" rx="12.6" ry="11.2" fill="url(#nuc)" stroke="#2a1510" stroke-width="1.6"/>
<ellipse cx="1346" cy="190" rx="4.2" ry="2.8" fill="#d7a89c" transform="rotate(-20 1346 190)"/>
<ellipse cx="1358.6" cy="175.2" rx="1.0" ry="1.8" fill="#fff" opacity="0.9" transform="rotate(15 1358.6 175.2)"/>
<ellipse cx="1366.8" cy="173.6" rx="0.9" ry="1.6" fill="#fff" opacity="0.9" transform="rotate(15 1366.8 173.6)"/>
<rect x="1192.3" y="328.1" width="193.3" height="100.4" rx="10" ry="10" fill="#b5b5b5" stroke="#333" stroke-width="2.4"/>
<rect x="1203.2" y="340.0" width="107.7" height="76.6" rx="8" ry="8" fill="#fff" stroke="#333" stroke-width="2.2"/>
<polyline points="1205.9,389.1 1209.2,392.9 1212.9,384.1 1215.4,390.4 1221.7,382.9 1225.5,389.9 1229.2,386.6 1234.3,390.4 1238.0,383.4 1244.3,390.4 1247.6,387.9 1250.6,366.6 1254.3,359.0 1260.1,347.7 1263.6,354.0 1266.9,372.8 1269.6,395.2 1272.6,380.9 1275.6,387.9 1279.4,388.4 1282.7,392.9 1286.2,387.9 1289.4,390.4 1292.0,384.9 1294.5,389.9 1298.2,387.9 1302.0,381.6 1304.5,389.1 1308.3,388.4" fill="none" stroke="#000" stroke-width="3.7" stroke-linejoin="miter" stroke-miterlimit="4"/>
<rect x="1318.8" y="358.5" width="12" height="5.5" fill="#cfcfcf" stroke="#222" stroke-width="1.3"/>
<rect x="1333.4" y="358.5" width="12" height="5.5" fill="#cfcfcf" stroke="#222" stroke-width="1.3"/>
<rect x="1348.4" y="358.5" width="12" height="5.5" fill="#cfcfcf" stroke="#222" stroke-width="1.3"/>
<rect x="1318.8" y="367.3" width="12" height="5.5" fill="#cfcfcf" stroke="#222" stroke-width="1.3"/>
<rect x="1333.4" y="367.3" width="12" height="5.5" fill="#cfcfcf" stroke="#222" stroke-width="1.3"/>
<rect x="1318.8" y="376.1" width="12" height="5.5" fill="#cfcfcf" stroke="#222" stroke-width="1.3"/>
<rect x="1333.4" y="376.1" width="12" height="5.5" fill="#cfcfcf" stroke="#222" stroke-width="1.3"/>
<rect x="1318.8" y="384.9" width="12" height="5.5" fill="#cfcfcf" stroke="#222" stroke-width="1.3"/>
<rect x="1333.4" y="384.9" width="12" height="5.5" fill="#cfcfcf" stroke="#222" stroke-width="1.3"/>
<rect x="1348.4" y="385.4" width="12" height="5.5" fill="#cfcfcf" stroke="#222" stroke-width="1.3"/>
<rect x="1348.4" y="393.6" width="12" height="5.5" fill="#cfcfcf" stroke="#222" stroke-width="1.3"/>
<path d="M1329,492.5 C1365,492 1371,440 1371.5,379" fill="none" stroke="#000" stroke-width="4.6"/>
<circle cx="1371.5" cy="373.3" r="5.6" fill="#cfcfcf" stroke="#000" stroke-width="1.4"/>
<rect x="1232.7" y="469.2" width="95.4" height="40.9" fill="url(#detbox)" stroke="#333" stroke-width="2"/>
<rect x="1224.2" y="486.0" width="7.5" height="8.8" fill="#000" />
<text x="10.4" y="31.3" font-size="22.5" font-weight="bold" textLength="15.4" lengthAdjust="spacingAndGlyphs" stroke="#111" stroke-width="0.9">a</text>
<text x="45.0" y="42.2" font-size="24" font-weight="normal" textLength="149.2" lengthAdjust="spacingAndGlyphs" stroke="#111" stroke-width="0.35">Light sources</text>
<text x="73.0" y="115.6" font-size="24" font-weight="normal" textLength="60.5" lengthAdjust="spacingAndGlyphs" stroke="#111" stroke-width="0.35">Laser</text>
<text x="59.2" y="177.3" font-size="24" font-weight="normal" textLength="101.3" lengthAdjust="spacingAndGlyphs" stroke="#111" stroke-width="0.35">1,064 nm</text>
<text x="78.0" y="250.0" font-size="24" font-weight="normal" textLength="82.5" lengthAdjust="spacingAndGlyphs" stroke="#111" stroke-width="0.35">532 nm</text>
<text x="338.6" y="64.6" font-size="24" font-weight="normal" textLength="104.9" lengthAdjust="spacingAndGlyphs" stroke="#111" stroke-width="0.35">Squeezer</text>
<text x="112.4" y="408.8" font-size="24" font-weight="normal" textLength="196.7" lengthAdjust="spacingAndGlyphs" stroke="#111" stroke-width="0.35">OPO 800–822 nm</text>
<text x="363.0" y="443.9" font-size="24" font-weight="normal" textLength="54.9" lengthAdjust="spacingAndGlyphs" stroke="#111" stroke-width="0.35">EOM</text>
<text x="791.0" y="42.1" font-size="24" font-weight="normal" textLength="130.5" lengthAdjust="spacingAndGlyphs" stroke="#111" stroke-width="0.35">Microscope</text>
<text x="799.2" y="85.8" font-size="24" font-weight="normal" textLength="45.3" lengthAdjust="spacingAndGlyphs" stroke="#111" stroke-width="0.35">LED</text>
<text x="786.7" y="457.1" font-size="24" font-weight="normal" textLength="52.4" lengthAdjust="spacingAndGlyphs" stroke="#111" stroke-width="0.35">CCD</text>
<text x="1062.9" y="45.9" font-size="24" font-weight="normal" textLength="107.3" lengthAdjust="spacingAndGlyphs" stroke="#111" stroke-width="0.35">Detection</text>
<text x="1087.4" y="99.5" font-size="24" font-weight="normal" textLength="99.4" lengthAdjust="spacingAndGlyphs" stroke="#111" stroke-width="0.35">Classical</text>
<text x="1288.3" y="102.2" font-size="24" font-weight="normal" textLength="101.8" lengthAdjust="spacingAndGlyphs" stroke="#111" stroke-width="0.35">Quantum</text>
<text x="1180.6" y="307.9" font-size="24" font-weight="normal" textLength="207.7" lengthAdjust="spacingAndGlyphs" stroke="#111" stroke-width="0.35">Spectrum analyser</text>
</svg>
</body></html>
